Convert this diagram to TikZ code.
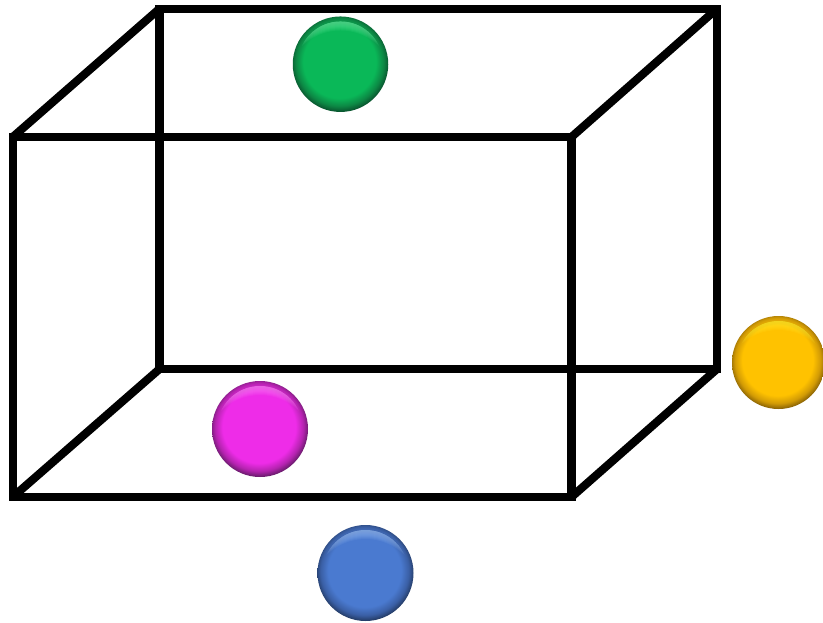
\documentclass[tikz,border=0pt]{standalone}
\definecolor{gbase}{RGB}{10,184,88}
\definecolor{gmid}{RGB}{12,135,68}
\definecolor{gdark}{RGB}{8,70,40}
\definecolor{glite}{RGB}{110,240,165}
\definecolor{ybase}{RGB}{255,194,0}
\definecolor{ymid}{RGB}{210,155,5}
\definecolor{ydark}{RGB}{120,85,5}
\definecolor{ylite}{RGB}{255,240,50}
\definecolor{mbase}{RGB}{238,44,232}
\definecolor{mmid}{RGB}{180,35,175}
\definecolor{mdark}{RGB}{85,25,90}
\definecolor{mlite}{RGB}{255,140,250}
\definecolor{bbase}{RGB}{74,122,208}
\definecolor{bmid}{RGB}{58,95,165}
\definecolor{bdark}{RGB}{30,50,85}
\definecolor{blite}{RGB}{160,195,245}
\pgfdeclareradialshading{gball}{\pgfpoint{-0.8bp}{2bp}}{color(0bp)=(gbase); color(19bp)=(gbase); color(23bp)=(gmid); color(26.5bp)=(gdark); color(50bp)=(gdark)}
\pgfdeclareradialshading{yball}{\pgfpoint{-0.8bp}{2bp}}{color(0bp)=(ybase); color(19bp)=(ybase); color(23bp)=(ymid); color(26.5bp)=(ydark); color(50bp)=(ydark)}
\pgfdeclareradialshading{mball}{\pgfpoint{-0.8bp}{2bp}}{color(0bp)=(mbase); color(19bp)=(mbase); color(23bp)=(mmid); color(26.5bp)=(mdark); color(50bp)=(mdark)}
\pgfdeclareradialshading{bball}{\pgfpoint{-0.8bp}{2bp}}{color(0bp)=(bbase); color(19bp)=(bbase); color(23bp)=(bmid); color(26.5bp)=(bdark); color(50bp)=(bdark)}
\tikzset{
  edge/.style={line width=8.2pt,line cap=butt,line join=miter,black},
  ball/.style={circle,minimum size=#1,inner sep=0pt,outer sep=0pt,draw=none},
}
% highlight crescent near the top of a ball: #1 colour, #2 ball radius in pt
\newcommand{\ballfx}[2]{%
  \begin{scope}[shift={(path picture bounding box.center)},x=1pt,y=1pt,rotate=12]
    \clip (0,0) circle[radius=#2-5];
    \foreach \t in {1,2,...,9}{
      \fill[#1,opacity=.10,even odd rule] (0,0) circle[radius=70] (0,{#2-5-\t-56}) circle[radius=56];
    }
  \end{scope}%
}
\begin{document}
\begin{tikzpicture}[x=1pt,y=-1pt]
  \useasboundingbox (0,0) rectangle (823,622);
  \coordinate (fTL) at (12.8,137);
  \coordinate (fTR) at (571.5,137);
  \coordinate (fBR) at (571.5,497);
  \coordinate (fBL) at (12.8,497);
  \coordinate (bTL) at (159.5,8.7);
  \coordinate (bTR) at (717,8.7);
  \coordinate (bBR) at (717,369);
  \coordinate (bBL) at (159.5,369);
  \draw[edge] (fTL) -- (fTR) -- (fBR) -- (fBL) -- cycle;
  \draw[edge] (bTL) -- (bTR) -- (bBR) -- (bBL) -- cycle;
  \draw[edge] (fTL) -- (bTL);
  \draw[edge] (fTR) -- (bTR);
  \draw[edge] (fBR) -- (bBR);
  \draw[edge] (fBL) -- (bBL);
  \begin{scope}
    \clip (0,0) rectangle (823,622);
    \node[ball=95.5pt,shading=gball,path picture={\ballfx{glite}{47.75}}] (green) at (340.5,64.2) {};
    \node[ball=96pt,shading=mball,path picture={\ballfx{mlite}{48}}] (magenta) at (260,429) {};
    \node[ball=96pt,shading=bball,path picture={\ballfx{blite}{48}}] (blue) at (365.5,573) {};
    \node[ball=93pt,shading=yball,path picture={\ballfx{ylite}{46.5}}] (yellow) at (778.5,362.5) {};
  \end{scope}
\end{tikzpicture}
\end{document}
